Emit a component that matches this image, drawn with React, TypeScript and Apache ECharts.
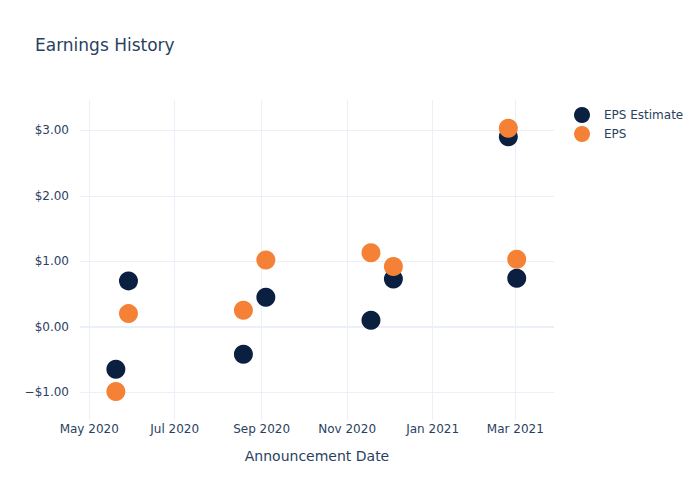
import React, { useEffect, useRef } from "react";
import * as echarts from "echarts";

const announcementDates = [
  "2020-05-20",
  "2020-05-29",
  "2020-08-19",
  "2020-09-04",
  "2020-11-18",
  "2020-12-04",
  "2021-02-24",
  "2021-03-02",
];
const epsEstimate = [-0.65, 0.7, -0.42, 0.45, 0.1, 0.73, 2.9, 0.74];
const epsActual = [-0.99, 0.2, 0.25, 1.02, 1.13, 0.92, 3.03, 1.03];
const xTickDates = ["2020-05-01", "2020-07-01", "2020-09-01", "2020-11-01", "2021-01-01", "2021-03-01"];
const yTicks = [-1, 0, 1, 2, 3];
const monthNames = ["Jan", "Feb", "Mar", "Apr", "May", "Jun", "Jul", "Aug", "Sep", "Oct", "Nov", "Dec"];

const ts = (d: string) => Date.parse(d + "T00:00:00Z");

const TEXT = "#2a3f5f";
const GRID = "#ebf0f8";
const FONT = "DejaVu Sans";

export default function App() {
  const ref = useRef<HTMLDivElement>(null);
  useEffect(() => {
    document.body.style.margin = "0";
    if (!ref.current) return;
    const chart = echarts.init(ref.current, null, { renderer: "svg" });
    const xTicks = xTickDates.map(ts);
    const estData = announcementDates.map((d, i) => [ts(d), epsEstimate[i]]);
    const epsData = announcementDates.map((d, i) => [ts(d), epsActual[i]]);
    const lineBase = { symbol: "none", silent: true, label: { show: false }, emphasis: { disabled: true }, animation: false };
    chart.setOption({
      animation: false,
      textStyle: { fontFamily: FONT },
      title: {
        text: "Earnings History",
        left: 30,
        top: 31,
        textStyle: { fontSize: 17, fontWeight: "normal", color: TEXT, fontFamily: FONT },
      },
      legend: {
        data: ["EPS Estimate", "EPS"],
        orient: "vertical",
        left: 569,
        top: 102,
        itemWidth: 30,
        itemHeight: 16,
        itemGap: 3,
        icon: "circle",
        textStyle: { fontSize: 12, color: TEXT, fontFamily: FONT, padding: [0, 0, 0, 2] },
      },
      grid: { left: 80, right: 146, top: 100, bottom: 80, containLabel: false },
      xAxis: {
        type: "value",
        min: Date.UTC(2020, 3, 24, 10),
        max: Date.UTC(2021, 2, 28, 14),
        name: "Announcement Date",
        nameLocation: "middle",
        nameGap: 29,
        nameTextStyle: { fontSize: 14, color: TEXT, fontFamily: FONT },
        axisLine: { show: false },
        axisTick: { show: false },
        splitLine: { show: false },
        axisLabel: {
          customValues: xTicks,
          margin: 3,
          fontSize: 12,
          color: TEXT,
          fontFamily: FONT,
          formatter: (v: number) => {
            const d = new Date(v);
            return monthNames[d.getUTCMonth()] + " " + d.getUTCFullYear();
          },
        },
      },
      yAxis: {
        type: "value",
        min: -1.425,
        max: 3.463,
        axisLine: { show: false },
        axisTick: { show: false },
        splitLine: { show: false },
        axisLabel: {
          customValues: yTicks,
          margin: 11,
          fontSize: 12,
          color: TEXT,
          fontFamily: FONT,
          formatter: (v: number) => (v < 0 ? "\u2212$" : "$") + Math.abs(v).toFixed(2),
        },
      },
      series: [
        {
          name: "grid",
          type: "scatter",
          data: [],
          z: 1,
          markLine: {
            ...lineBase,
            z: 1,
            lineStyle: { color: GRID, width: 1, type: "solid" },
            data: [
              ...xTicks.map((t) => ({ xAxis: t })),
              ...yTicks.filter((v) => v !== 0).map((v) => ({ yAxis: v })),
            ],
          },
        },
        {
          name: "zeroline",
          type: "scatter",
          data: [],
          z: 1,
          markLine: {
            ...lineBase,
            z: 1,
            lineStyle: { color: GRID, width: 2, type: "solid" },
            data: [{ yAxis: 0 }],
          },
        },
        {
          name: "EPS Estimate",
          type: "scatter",
          z: 10,
          symbolSize: 19,
          itemStyle: { color: "#0b1f40", opacity: 1 },
          data: estData,
        },
        {
          name: "EPS",
          type: "scatter",
          z: 11,
          symbolSize: 19,
          itemStyle: { color: "#f58137", opacity: 1 },
          data: epsData,
        },
      ],
    });
    return () => chart.dispose();
  }, []);
  return <div ref={ref} style={{ width: 700, height: 500 }} />;
}
